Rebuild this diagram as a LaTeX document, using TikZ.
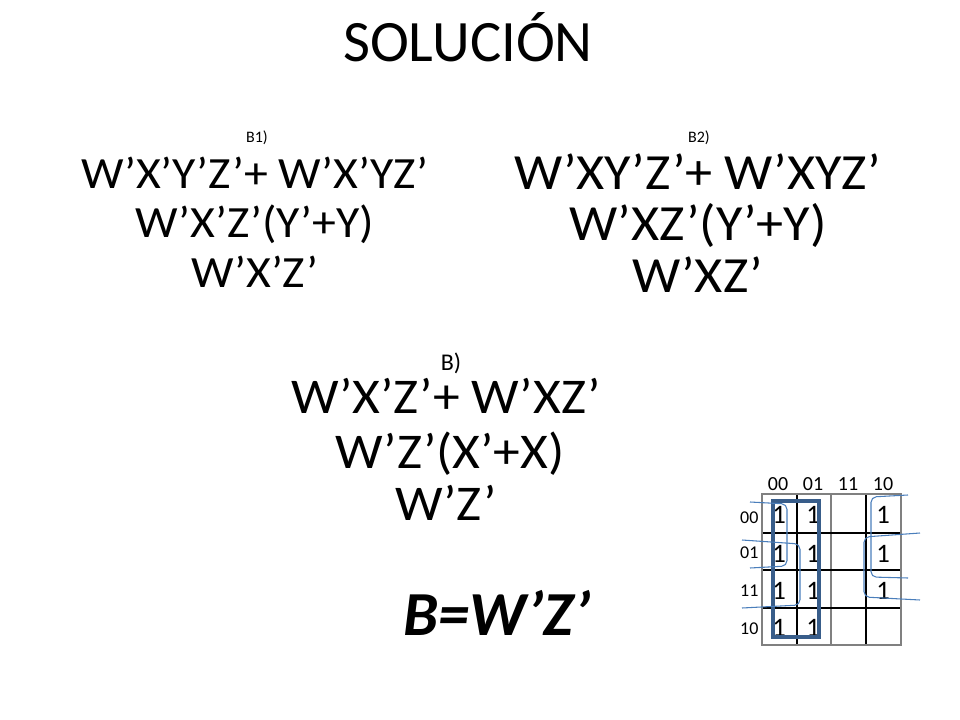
\documentclass[tikz,border=0pt]{standalone}
\usepackage{fontspec}
\setmainfont{Carlito}
\setsansfont{Carlito}
\newfontfamily\eqfont[FakeStretch=1.07]{Carlito}
\definecolor{boxblue}{HTML}{385D8A}
\definecolor{loopblue}{HTML}{4A7EBB}
\begin{document}
\begin{tikzpicture}[x=0.75pt, y=-0.75pt, font=\sffamily,
	title/.style={anchor=base, font=\fontsize{44}{50}\selectfont},
	tag/.style={anchor=base, font=\fontsize{12}{14}\selectfont},
	eqA/.style={anchor=base, font=\eqfont\fontsize{33.5}{40}\selectfont},
	eqB/.style={anchor=base, font=\eqfont\fontsize{38}{44}\selectfont},
	eqC/.style={anchor=base, font=\eqfont\fontsize{37.5}{42}\selectfont},
	result/.style={anchor=base, font=\fontsize{47}{54}\selectfont\bfseries\itshape},
	collab/.style={anchor=base, font=\fontsize{15}{17}\selectfont},
	rowlab/.style={anchor=base east, inner sep=1pt, font=\fontsize{13.5}{15}\selectfont},
	one/.style={font=\fontsize{20}{22}\selectfont}]
\useasboundingbox (0,0) rectangle (960,720);
%title
\node[title] (title) at (468,62) {SOLUCIÓN};
%B1
\node[tag] (b1tag) at (257,143) {B1)};
\node[eqA] (b1a) at (255,189) {W’X’Y’Z’+ W’X’YZ’};
\node[eqA] (b1b) at (255,238) {W’X’Z’(Y’+Y)};
\node[eqA] (b1c) at (255,287) {W’X’Z’};
%B2
\node[tag] (b2tag) at (699,143) {B2)};
\node[eqB] (b2a) at (698,190) {W’XY’Z’+ W’XYZ’};
\node[eqB] (b2b) at (698,241) {W’XZ’(Y’+Y)};
\node[eqB] (b2c) at (698,292) {W’XZ’};
%B
\node[tag, font=\fontsize{18}{20}\selectfont] (btag) at (451,370) {B)};
\node[eqC] (ba) at (446,413) {W’X’Z’+ W’XZ’};
\node[eqC] (bb) at (450,468) {W’Z’(X’+X)};
\node[eqC] (bc) at (446,520) {W’Z’};
\node[result] (res) at (497,635) {B=W’Z’};
%kmap grid
\foreach \x in {797,866}
\draw[black, line width=1pt] (\x,494) -- (\x,645);
\draw[gray, line width=1pt] (831,494) -- (831,645);
\foreach \y in {533,570,608}
\draw[black, line width=1pt] (762,\y) -- (901,\y);
\draw[gray, line width=1.2pt] (762,494) rectangle (901,645);
%labels
\foreach \x/\t in {778/00, 813/01, 848/11, 883/10}
\node[collab] (col\t) at (\x,490) {\t};
\foreach \y/\t in {523/00, 558/01, 596/11, 634/10}
\node[rowlab] (row\t) at (760,\y) {\t};
%ones
\foreach \y/\r in {515/a, 554/b, 591/c, 628/d}
{
	\node[one] (one\r1) at (779,\y) {1};
	\node[one] (one\r2) at (813,\y) {1};
}
\foreach \y/\r in {515/a, 554/b, 591/c}
\node[one] (one\r4) at (883,\y) {1};
%groups
\draw[boxblue, line width=2.4pt] (773,501) rectangle (819,637);
\draw[loopblue, line width=0.8pt, rounded corners=4pt] (750,502) -- (787,504) -- (787,566) -- (750,568);
\draw[loopblue, line width=0.8pt, rounded corners=4pt] (742,540) -- (800,544) -- (800,605) -- (742,608);
\draw[loopblue, line width=0.8pt, rounded corners=4pt] (908,495) -- (871,497) -- (871,577) -- (908,578);
\draw[loopblue, line width=0.8pt, rounded corners=4pt] (920,533) -- (864,537) -- (864,597) -- (920,600);
\end{tikzpicture}
\end{document}
